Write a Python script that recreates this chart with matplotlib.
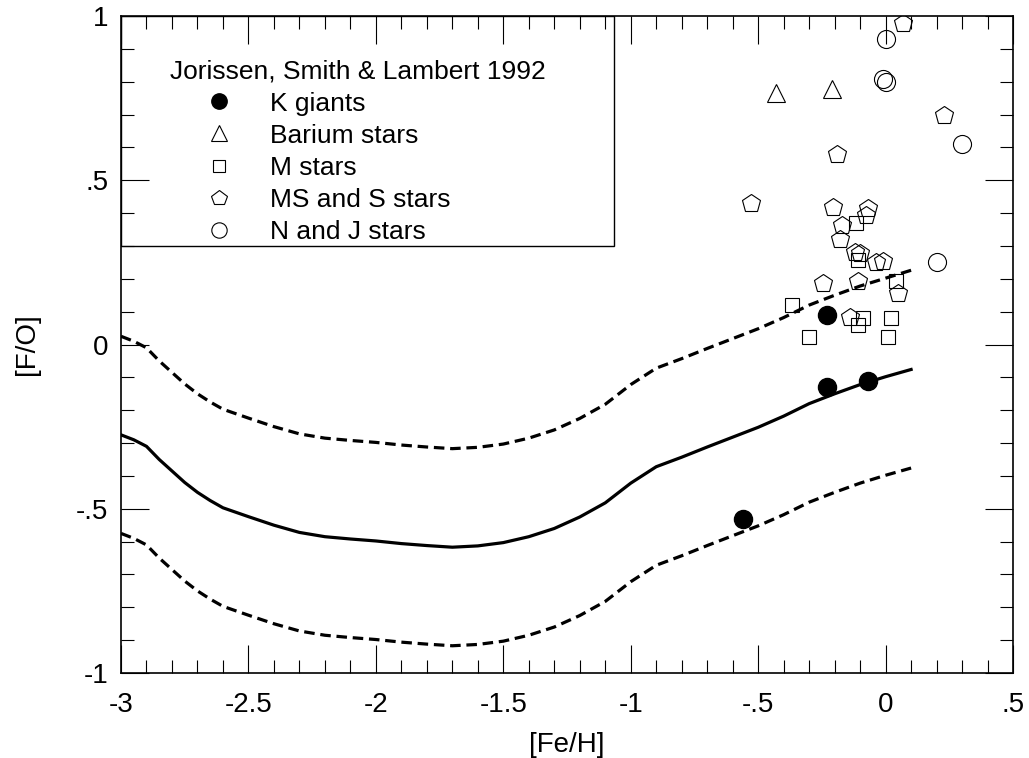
import numpy as np
import matplotlib.pyplot as plt
from matplotlib.patches import Rectangle
from matplotlib.ticker import MultipleLocator, FuncFormatter

plt.rcParams['font.family'] = ['Liberation Sans', 'DejaVu Sans']

# model curve and its upper / lower band
curve_feh = [-3.0, -2.95, -2.9, -2.85, -2.8, -2.75, -2.7, -2.65, -2.6, -2.5, -2.4, -2.3,
             -2.2, -2.1, -2.0, -1.9, -1.8, -1.7, -1.6, -1.5, -1.4, -1.3, -1.2, -1.1,
             -1.0, -0.9, -0.8, -0.7, -0.6, -0.5, -0.4, -0.3, -0.2, -0.1, 0.0, 0.1]
curve_mid = [-0.275, -0.29, -0.31, -0.35, -0.385, -0.42, -0.45, -0.475, -0.497, -0.524,
             -0.550, -0.572, -0.585, -0.592, -0.598, -0.606, -0.612, -0.617, -0.613, -0.603,
             -0.585, -0.560, -0.525, -0.482, -0.422, -0.372, -0.343, -0.312, -0.282, -0.252,
             -0.218, -0.180, -0.150, -0.122, -0.098, -0.076]
curve_hi = [0.025, 0.01, -0.01, -0.05, -0.085, -0.12, -0.15, -0.175, -0.197, -0.224,
            -0.25, -0.272, -0.285, -0.292, -0.298, -0.306, -0.312, -0.317, -0.313, -0.303,
            -0.285, -0.26, -0.225, -0.182, -0.122, -0.072, -0.043, -0.012, 0.018, 0.048,
            0.082, 0.12, 0.15, 0.178, 0.202, 0.226]
curve_lo = [-0.575, -0.59, -0.61, -0.65, -0.685, -0.72, -0.75, -0.775, -0.797, -0.824,
            -0.85, -0.872, -0.885, -0.892, -0.898, -0.906, -0.912, -0.917, -0.913, -0.903,
            -0.885, -0.86, -0.825, -0.782, -0.722, -0.672, -0.643, -0.612, -0.582, -0.552,
            -0.518, -0.48, -0.45, -0.422, -0.398, -0.376]

# stars
k_feh = [-0.23, -0.23, -0.07, -0.56]
k_fo = [0.09, -0.13, -0.11, -0.53]

ba_feh = [-0.43, -0.21]
ba_fo = [0.767, 0.777]

m_feh = [-0.116, -0.109, 0.041, -0.368, -0.087, -0.109, 0.02, -0.299, 0.011]
m_fo = [0.369, 0.257, 0.194, 0.120, 0.080, 0.059, 0.080, 0.024, 0.024]

s_feh = [0.07, 0.23, -0.19, -0.53, -0.205, -0.068, -0.077, -0.172, -0.179, -0.12, -0.10,
         -0.039, -0.009, -0.247, -0.107, 0.05, -0.14]
s_fo = [0.978, 0.70, 0.58, 0.43, 0.419, 0.415, 0.394, 0.364, 0.320, 0.283, 0.28,
        0.252, 0.255, 0.188, 0.194, 0.158, 0.085]

nj_feh = [0.0, -0.01, 0.0, 0.30, 0.20]
nj_fo = [0.93, 0.808, 0.80, 0.61, 0.25]

fig = plt.figure(figsize=(10.29, 7.58), dpi=100)
ax = fig.add_axes([0.1176, 0.1121, 0.8669, 0.8668])

ax.plot(curve_feh, curve_mid, color='black', lw=2.3)
ax.plot(curve_feh, curve_hi, color='black', lw=2.3, dashes=(3.3, 1.8))
ax.plot(curve_feh, curve_lo, color='black', lw=2.3, dashes=(3.3, 1.8))

ax.plot(k_feh, k_fo, 'o', color='black', ms=13, label='K giants', zorder=5)
ax.plot(ba_feh, ba_fo, '^', mfc='none', mec='black', mew=0.8, ms=13, label='Barium stars')
ax.plot(m_feh, m_fo, 's', mfc='none', mec='black', mew=0.8, ms=9.5, label='M stars')
ax.plot(s_feh, s_fo, 'p', mfc='none', mec='black', mew=0.8, ms=13.5, label='MS and S stars')
ax.plot(nj_feh, nj_fo, 'o', mfc='none', mec='black', mew=0.8, ms=13, label='N and J stars')

ax.set_xlim(-3, 0.5)
ax.set_ylim(-1, 1)

fmt = FuncFormatter(lambda v, p: ('%g' % round(v, 2)).replace('0.', '.'))
ax.xaxis.set_major_locator(MultipleLocator(0.5))
ax.xaxis.set_minor_locator(MultipleLocator(0.1))
ax.yaxis.set_major_locator(MultipleLocator(0.5))
ax.yaxis.set_minor_locator(MultipleLocator(0.1))
ax.xaxis.set_major_formatter(fmt)
ax.yaxis.set_major_formatter(fmt)

ax.tick_params(which='both', direction='in', top=True, right=True, width=0.8, labelsize=20)
ax.tick_params(which='major', length=20)
ax.tick_params(which='minor', length=9.5)
ax.tick_params(axis='x', pad=14)
ax.tick_params(axis='y', pad=9)
for sp in ax.spines.values():
    sp.set_linewidth(1.2)

ax.set_xlabel('[Fe/H]', fontsize=20)
ax.set_ylabel('[F/O]', fontsize=20)
ax.xaxis.set_label_coords(0.5, -0.089)
ax.yaxis.set_label_coords(-0.091, 0.5)

# legend box sits in the upper left corner
ax.add_patch(Rectangle((0, 0.65), 0.553, 0.35, transform=ax.transAxes,
                       fill=False, lw=1.0, ec='black', zorder=6))
leg = ax.legend(loc='upper left', bbox_to_anchor=(0.055, 0.934), frameon=False,
                title='Jorissen, Smith & Lambert 1992', title_fontsize=19, fontsize=19,
                alignment='left', handlelength=3.7, handletextpad=0.08, markerscale=0.85,
                labelspacing=0.31, borderpad=0, borderaxespad=0)

fig.savefig('out.png', dpi=100)
